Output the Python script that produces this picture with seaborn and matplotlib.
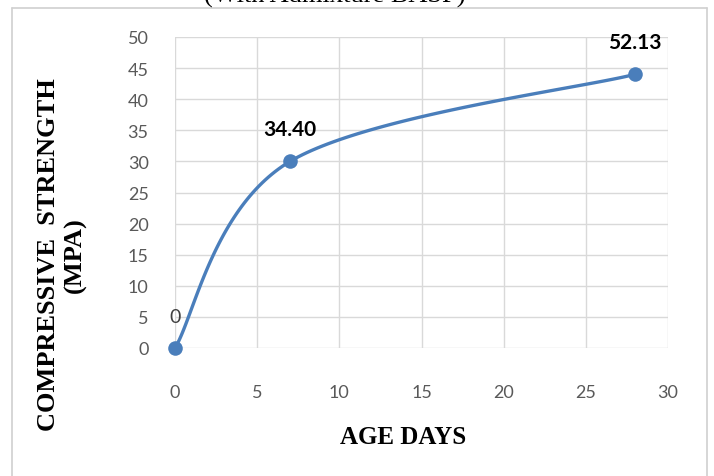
import numpy as np
import pandas as pd
import matplotlib
matplotlib.use("Agg")
import matplotlib.pyplot as plt
from matplotlib.lines import Line2D
import seaborn as sns

# Compressive strength test results
age_days = [0, 7, 28]
strength = [0, 30, 44]
point_labels = ["0", "34.40", "52.13"]
x_ticks = [0, 5, 10, 15, 20, 25, 30]
y_ticks = [0, 5, 10, 15, 20, 25, 30, 35, 40, 45, 50]

df = pd.DataFrame({"age": age_days, "strength": strength})

sns.set_theme(style="white")
plt.rcParams["font.family"] = ["Lato", "DejaVu Sans"]

BLUE = "#4A7EBB"
GRID = "#D9D9D9"
TICK = "#595959"
W, H = 714, 477


def smooth_curve(xs, ys, n=60):
    """Cardinal (Catmull-Rom style) Bezier smoothing through the points."""
    pts = np.column_stack([xs, ys]).astype(float)
    ext = np.vstack([pts[0], pts, pts[-1]])
    out = []
    t = np.linspace(0, 1, n)[:, None]
    for i in range(1, len(ext) - 2):
        p0, p3 = ext[i], ext[i + 1]
        c1 = p0 + (ext[i + 1] - ext[i - 1]) / 6.0
        c2 = p3 - (ext[i + 2] - ext[i]) / 6.0
        seg = ((1 - t) ** 3) * p0 + 3 * ((1 - t) ** 2) * t * c1 + 3 * (1 - t) * t ** 2 * c2 + t ** 3 * p3
        out.append(seg)
    curve = np.vstack(out)
    return curve[:, 0], curve[:, 1]


fig = plt.figure(figsize=(W / 100, H / 100), dpi=100)
ax = fig.add_axes([175 / W, 1 - 349 / H, (668 - 175) / W, (349 - 38) / H])

cx, cy = smooth_curve(df["age"], df["strength"])
sns.lineplot(x=cx, y=cy, ax=ax, color=BLUE, linewidth=2.4, sort=False, estimator=None)
sns.scatterplot(data=df, x="age", y="strength", ax=ax, color=BLUE, s=110,
                edgecolor=BLUE, linewidth=0, zorder=5, clip_on=False)

ax.set_xlim(0, 30)
ax.set_ylim(0, 50)
ax.set_xticks(x_ticks)
ax.set_yticks(y_ticks)
ax.grid(True, color=GRID, linewidth=1)
ax.set_axisbelow(True)
for s in ax.spines.values():
    s.set_visible(False)
ax.tick_params(axis="both", length=0, labelsize=13, labelcolor=TICK)
ax.tick_params(axis="y", pad=19)
ax.tick_params(axis="x", pad=26)
ax.set_xlabel("")
ax.set_ylabel("")

# axis titles
fig.text(403 / W, 1 - 438 / H, "AGE DAYS", ha="center", va="center",
         family=["Liberation Serif"], fontweight="bold", fontsize=18, color="black")
fig.text(62 / W, 1 - 255 / H, "COMPRESSIVE  STRENGTH\n(MPA)", ha="center", va="center",
         rotation=90, multialignment="center", family=["Liberation Serif"],
         fontweight="bold", fontsize=19, color="black", linespacing=1.15)

# value labels above the points
for x, y, lab in zip(age_days, strength, point_labels):
    bold = lab != "0"
    ax.annotate(lab, (x, y), xytext=(0, 23), textcoords="offset points",
                ha="center", va="center", fontsize=15 if bold else 14,
                fontweight="bold" if bold else "normal",
                color="black" if bold else "#404040", annotation_clip=False)

# chart frame
frame = dict(transform=fig.transFigure, color="#D0D0D0", linewidth=1.2)
fig.add_artist(Line2D([12 / W, 707 / W], [1 - 9 / H, 1 - 9 / H], **frame))
fig.add_artist(Line2D([12 / W, 12 / W], [1 - 9 / H, 0], **frame))
fig.add_artist(Line2D([707 / W, 707 / W], [1 - 9 / H, 0], **frame))

# chart title (runs past the top edge)
fig.text(335 / W, 1 - 3 / H, "(With Admixture BASF)", ha="center", va="baseline",
         family=["Liberation Serif"], fontsize=19, color="black")

fig.savefig("out.png", dpi=100)
